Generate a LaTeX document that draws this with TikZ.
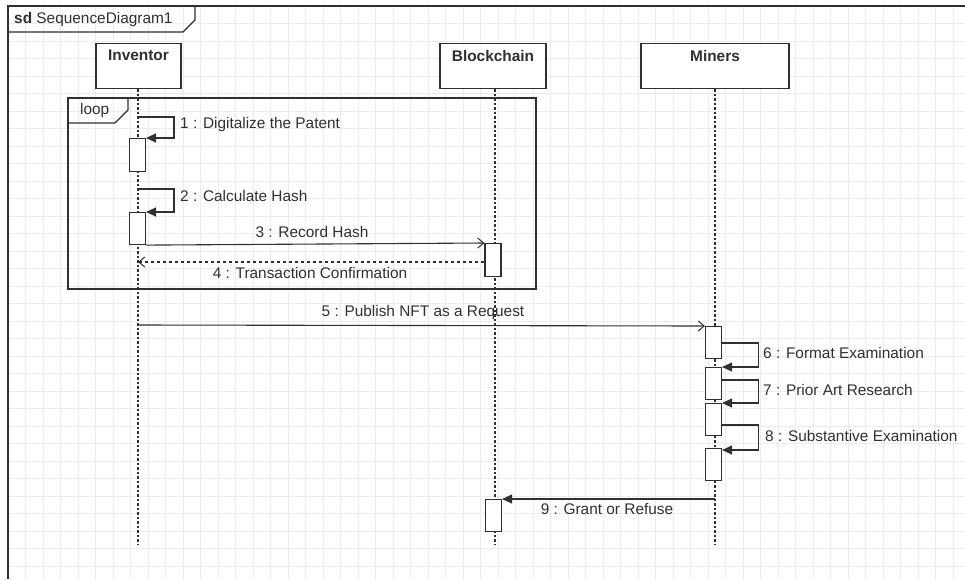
\documentclass[tikz,border=0pt]{standalone}
\usepackage{fontspec}
\setmainfont{Liberation Sans}
\usetikzlibrary{arrows.meta,calc}
\definecolor{ink}{RGB}{48,48,48}
\definecolor{gridc}{RGB}{236,236,236}
\newcommand\txtsz{\fontsize{15.4}{18}\selectfont}
\tikzset{
  frameline/.style={draw=ink, line width=1.2pt},
  headbox/.style={draw=ink, line width=1.1pt, fill=white, minimum height=45pt, inner sep=0pt, anchor=north},
  headtxt/.style={anchor=north, inner sep=0pt, yshift=-7pt, font=\txtsz\bfseries, text=ink},
  lifeline/.style={draw=ink, line width=1.5pt, dash pattern=on 2.5pt off 2pt},
  actbar/.style={draw=ink, line width=1.1pt, fill=white, minimum width=16pt, inner sep=0pt, anchor=north},
  msg/.style={draw=ink, line width=1.1pt},
  synch/.style={msg, -{Triangle[length=10pt,width=9pt]}},
  openar/.style={msg, -{Straight Barb[length=6pt,width=10pt,line width=1pt]}},
  retmsg/.style={msg, dash pattern=on 3.5pt off 2.5pt, -{Straight Barb[length=6pt,width=10pt,line width=1pt]}},
  lbl/.style={inner sep=0pt, font=\txtsz, text=ink},
}
\begin{document}
\begin{tikzpicture}[x=1pt,y=-1pt]
\useasboundingbox (0,0) rectangle (965,579);
\fill[white] (0,0) rectangle (965,579);
% faint grid
\foreach \gx in {0,...,55} {\draw[gridc, line width=0.8pt] ({8+17.5*\gx},6) -- ({8+17.5*\gx},579);}
\foreach \gy in {0,...,33} {\draw[gridc, line width=0.8pt] (8,{6+17.5*\gy}) -- (965,{6+17.5*\gy});}
% outer frame
\draw[frameline] (8,579) -- (8,6) -- (965,6);
\draw[frameline] (8,32) -- (183,32) -- (195,20) -- (195,6);
\node[lbl, anchor=west] (title) at (14,20) {\textbf{sd} SequenceDiagram1};

% heads
\node[headbox, minimum width=85pt] (inv) at (138.5,43) {};
\node[headtxt] (invt) at (inv.north) {Inventor};
\node[headbox, minimum width=106pt] (blk) at (493,43) {};
\node[headtxt] (blkt) at (blk.north) {Blockchain};
\node[headbox, minimum width=148pt] (min) at (715,43) {};
\node[headtxt] (mint) at (min.north) {Miners};

% lifeline ends
\coordinate (invE) at (138,545);
\coordinate (blkE) at (495,545);
\coordinate (minE) at (715,545);
\draw[lifeline] (inv.south -| invE) -- (invE);
\draw[lifeline] (blk.south -| blkE) -- (blkE);
\draw[lifeline] (min.south -| minE) -- (minE);

% loop fragment
\draw[frameline] (68,98) rectangle (536,289);
\draw[frameline] (68,123) -- (115,123) -- (128,110) -- (128,98);
\node[lbl, anchor=west] (looplbl) at (80,111) {loop};

% activation bars
\node[actbar, minimum height=33pt] (a1) at (137.5,138) {};
\node[actbar, minimum height=32pt] (a2) at (137.5,212) {};
\node[actbar, minimum height=33pt] (b1) at (493,243) {};
\node[actbar, minimum height=32pt] (b2) at (493.5,499) {};
\node[actbar, minimum height=32pt] (m1) at (713.5,326) {};
\node[actbar, minimum height=32pt] (m2) at (713.5,367) {};
\node[actbar, minimum height=32pt] (m3) at (713.5,403) {};
\node[actbar, minimum height=32pt] (m4) at (713.5,448) {};

% message anchors on lifelines
\coordinate (s1) at (138,117);
\coordinate (s2) at (138,189);
\coordinate (r4) at (138,262);
\coordinate (s5) at (138,325);
\coordinate (s9) at (715,499);

% 1, 2 self calls
\draw[synch] (s1) -- ++(36,0) |- (a1.north east);
\node[lbl, anchor=west] (l1) at (180,125) {1 : Digitalize the Patent};
\draw[synch] (s2) -- ++(36,0) |- (a2.north east);
\node[lbl, anchor=west] (l2) at (180,196) {2 : Calculate Hash};
% 3
\draw[openar] (a2.south east) -- (b1.north west);
\node[lbl] (l3) at (312,232) {3 : Record Hash};
% 4
\draw[retmsg] ([yshift=-19pt]b1.north west) -- (r4);
\node[lbl] (l4) at (310,273) {4 : Transaction Confirmation};
% 5
\draw[openar] (s5) -- (m1.north west);
\node[lbl] (l5) at (423,313) {5 : Publish NFT as a Request};
% 6,7,8
\draw[synch] ([yshift=-17pt]m1.north east) -- ++(36,0) |- (m2.north east);
\node[lbl, anchor=west] (l6) at (763,353) {6 : Format Examination};
\draw[synch] ([yshift=-13pt]m2.north east) -- ++(36,0) |- (m3.north east);
\node[lbl, anchor=west] (l7) at (763,390) {7 : Prior Art Research};
\draw[synch] ([yshift=-22pt]m3.north east) -- ++(36,0) |- ([yshift=-2pt]m4.north east);
\node[lbl, anchor=west] (l8) at (765,436) {8 : Substantive Examination};
% 9
\draw[synch] (s9) -- (b2.north east);
\node[lbl] (l9) at (607,509) {9 : Grant or Refuse};
\end{tikzpicture}
\end{document}
